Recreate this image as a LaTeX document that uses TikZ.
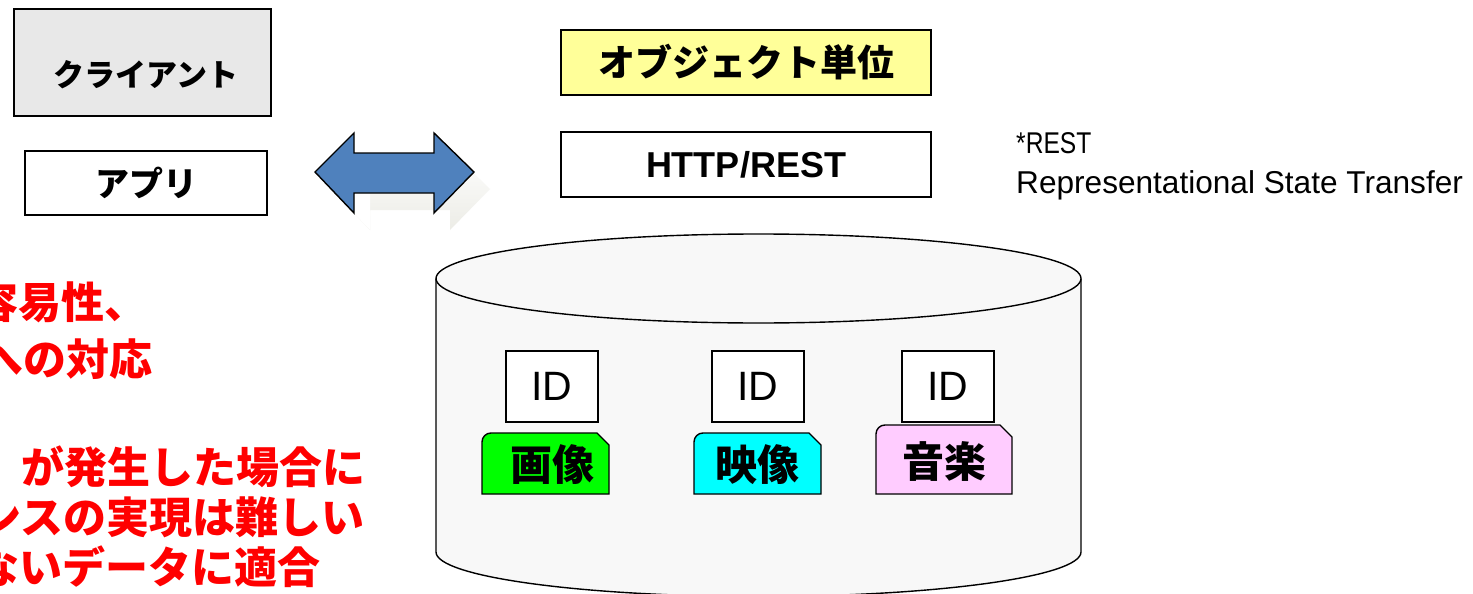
\documentclass[tikz,border=0pt]{standalone}
\usepackage{fontspec}
\setmainfont{Liberation Sans}
\newfontfamily\jp{Noto Sans CJK JP}
\definecolor{clientgray}{RGB}{232,232,232}
\definecolor{objyellow}{RGB}{255,255,153}
\definecolor{arrowblue}{RGB}{79,129,189}
\definecolor{shadowgray}{RGB}{236,236,230}
\definecolor{cylfill}{RGB}{248,248,248}
\definecolor{tabgreen}{RGB}{0,255,0}
\definecolor{tabcyan}{RGB}{0,255,255}
\definecolor{tabpink}{RGB}{255,204,255}
\tikzset{
  box/.style={draw=black, line width=1.4pt, inner sep=0pt},
  idbox/.style={box, fill=white, minimum width=92pt, minimum height=71pt, font=\fontsize{41}{43}\selectfont},
  jptxt/.style={inner sep=0pt, font=\jp\bfseries\fontsize{#1}{#1}\selectfont},
  redtxt/.style={inner sep=0pt, anchor=west, text=red, font=\jp\bfseries\fontsize{43}{43}\selectfont},
  tab/.style={draw=black, line width=1.4pt},
}
\begin{document}
\begin{tikzpicture}[x=1pt,y=-1pt]
\useasboundingbox[fill=white] (0,0) rectangle (1473,594);

% client boxes
\node[box, fill=clientgray, minimum width=257pt, minimum height=107pt] (client) at (142.5,62.5) {};
\node[jptxt=31] (clienttxt) at (146,75) {クライアント};
\node[box, fill=white, minimum width=242pt, minimum height=64pt, jptxt=34] (appli) at (146,183) {アプリ};

% object / http boxes
\node[box, fill=objyellow, minimum width=370pt, minimum height=65pt, jptxt=37] (obj) at (746,62.5) {オブジェクト単位};
\node[box, fill=white, minimum width=370pt, minimum height=65pt, font=\bfseries\fontsize{36}{36}\selectfont] (http) at (746,164.5) {HTTP/REST};

% REST note
\node[anchor=base west, inner sep=0pt, font=\fontsize{30}{30}\selectfont] (restnote) at (1016,153) {\scalebox{0.82}[1]{*REST}};
\node[anchor=base west, inner sep=0pt, font=\fontsize{31.6}{32}\selectfont] (restfull) at (1016,193) {Representational State Transfer};

% double arrow with shadow
\shade[left color=white, right color=shadowgray, shading angle=0]
  (331,189) -- (370,150) -- (370,170) -- (450,170) -- (450,150) -- (490,189)
  -- (450,230) -- (450,210) -- (370,210) -- (370,230) -- cycle;
\fill[white] (331,189) -- (370,150) -- (370,230) -- cycle;
\draw[fill=arrowblue, line width=1.4pt, line join=miter]
  (315,172) -- (354,133) -- (354,153) -- (434,153) -- (434,133) -- (474,172)
  -- (434,213) -- (434,193) -- (354,193) -- (354,213) -- cycle;

% cylinder
\draw[fill=cylfill, line width=1.4pt]
  (436,278.5) -- (436,552) arc[start angle=180, end angle=0, x radius=322.5, y radius=44.5]
  -- (1081,278.5);
\draw[fill=cylfill, line width=1.4pt] (758.5,278.5) ellipse[x radius=322.5, y radius=44.5];

% ID boxes
\node[idbox] (id1) at (552,386.5) {ID};
\node[idbox] (id2) at (758,386.5) {ID};
\node[idbox] (id3) at (948,386.5) {ID};

% tabs
\draw[tab, fill=tabgreen] (482,494) -- (482,442) arc[start angle=180, end angle=270, radius=9] -- (597,433) -- (609,445) -- (609,494) -- cycle;
\draw[tab, fill=tabcyan] (694,494) -- (694,442) arc[start angle=180, end angle=270, radius=9] -- (809,433) -- (821,445) -- (821,494) -- cycle;
\draw[tab, fill=tabpink] (876,494) -- (876,434) arc[start angle=180, end angle=270, radius=9] -- (1000,425) -- (1012,437) -- (1012,494) -- cycle;
\node[jptxt=42] (gazou) at (552,465) {画像};
\node[jptxt=42] (eizou) at (757,465) {映像};
\node[jptxt=42] (ongaku) at (944,461) {音楽};

% red text (partly cut at the left edge, as in the reference)
\node[redtxt] (r1) at (-25,302) {容易性、};
\node[redtxt] (r2) at (-20,359) {への対応};
\node[redtxt] (r3) at (21,467) {が発生した場合に};
\node[redtxt] (r4) at (-22,517) {ンスの実現は難しい};
\node[redtxt] (r5) at (-24,567) {ないデータに適合};
\end{tikzpicture}
\end{document}
